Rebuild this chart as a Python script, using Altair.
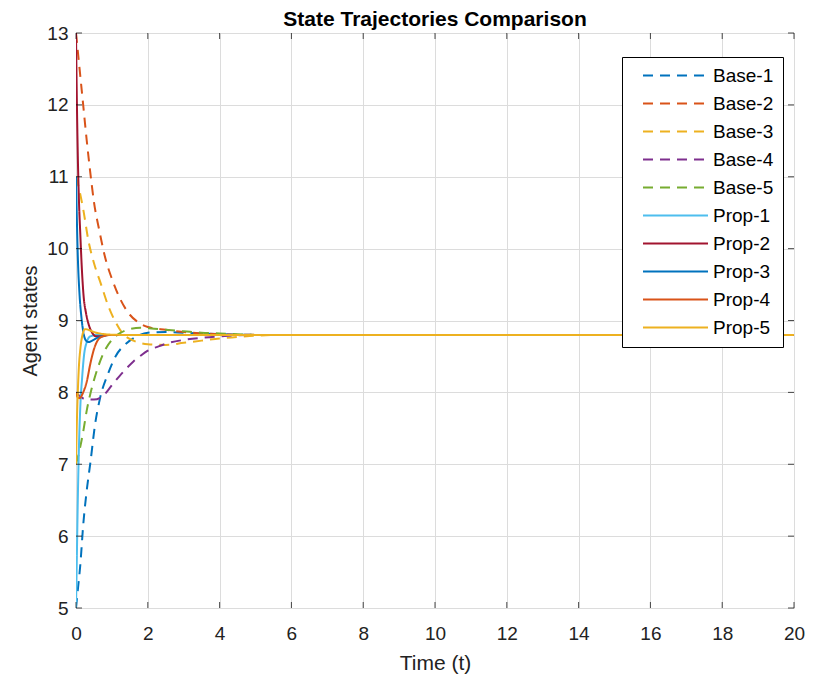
import altair as alt
import pandas as pd

# ---- data ----
series_names = ["Base-1", "Base-2", "Base-3", "Base-4", "Base-5",
                "Prop-1", "Prop-2", "Prop-3", "Prop-4", "Prop-5"]
series_colors = ["#0072BD", "#D95319", "#EDB120", "#7E2F8E", "#77AC30",
                 "#4DBEEE", "#A2142F", "#0072BD", "#D95319", "#EDB120"]

base1_t = [0, 0.05, 0.12, 0.2, 0.3, 0.4, 0.53, 0.67, 0.9, 1.1, 1.4, 1.7, 2.0, 2.5, 3.0, 4.0, 5.0, 20]
base1_v = [5, 5.25, 5.6, 6.15, 6.64, 7.02, 7.55, 7.92, 8.27, 8.5, 8.68, 8.78, 8.83, 8.84, 8.83, 8.81, 8.8, 8.8]

base2_t = [0, 0.1, 0.2, 0.3, 0.4, 0.5, 0.65, 0.8, 1.0, 1.25, 1.5, 1.75, 2.0, 2.5, 3.0, 3.5, 4.0, 5.0, 20]
base2_v = [13, 12.5, 12.0, 11.5, 11.05, 10.65, 10.25, 9.9, 9.58, 9.28, 9.08, 8.97, 8.91, 8.87, 8.84, 8.82, 8.81, 8.8, 8.8]

base3_t = [0, 0.1, 0.2, 0.35, 0.5, 0.7, 0.9, 1.1, 1.3, 1.6, 2.0, 2.5, 3.0, 3.5, 4.0, 4.5, 5.0, 6.0, 20]
base3_v = [11, 10.8, 10.55, 10.1, 9.8, 9.5, 9.2, 8.98, 8.82, 8.72, 8.67, 8.66, 8.69, 8.72, 8.75, 8.77, 8.79, 8.8, 8.8]

base4_t = [0, 0.15, 0.3, 0.5, 0.75, 1.0, 1.2, 1.4, 1.6, 1.8, 2.0, 2.3, 2.6, 3.0, 3.5, 4.0, 5.0, 20]
base4_v = [8, 7.93, 7.9, 7.9, 7.95, 8.1, 8.22, 8.33, 8.43, 8.51, 8.58, 8.64, 8.69, 8.73, 8.76, 8.78, 8.8, 8.8]

base5_t = [0, 0.1, 0.2, 0.3, 0.4, 0.53, 0.77, 1.0, 1.25, 1.5, 1.8, 2.1, 2.5, 3.0, 3.5, 4.0, 5.0, 20]
base5_v = [7, 7.2, 7.45, 7.75, 7.98, 8.22, 8.55, 8.73, 8.83, 8.88, 8.9, 8.89, 8.87, 8.85, 8.83, 8.82, 8.8, 8.8]

prop1_t = [0, 0.02, 0.05, 0.08, 0.12, 0.17, 0.22, 0.3, 0.4, 0.6, 20]
prop1_v = [5, 5.6, 6.5, 7.2, 7.8, 8.2, 8.5, 8.7, 8.78, 8.8, 8.8]

prop2_t = [0, 0.02, 0.05, 0.08, 0.12, 0.16, 0.21, 0.28, 0.35, 0.45, 0.55, 0.7, 0.9, 20]
prop2_v = [13, 12.2, 11.3, 10.7, 10.2, 9.75, 9.35, 9.1, 8.95, 8.83, 8.78, 8.78, 8.8, 8.8]

prop3_t = [0, 0.02, 0.05, 0.1, 0.15, 0.2, 0.28, 0.35, 0.45, 0.6, 0.8, 1.0, 20]
prop3_v = [11, 10.5, 9.9, 9.35, 9.05, 8.85, 8.72, 8.7, 8.72, 8.76, 8.79, 8.8, 8.8]

prop4_t = [0, 0.05, 0.1, 0.2, 0.3, 0.4, 0.5, 0.6, 0.75, 1.0, 20]
prop4_v = [8, 7.93, 7.92, 8.0, 8.15, 8.4, 8.6, 8.72, 8.78, 8.8, 8.8]

prop5_t = [0, 0.02, 0.05, 0.08, 0.12, 0.18, 0.25, 0.35, 0.5, 0.8, 1.2, 20]
prop5_v = [7, 7.5, 8.0, 8.35, 8.6, 8.8, 8.88, 8.87, 8.84, 8.81, 8.8, 8.8]

x_ticks = [0, 2, 4, 6, 8, 10, 12, 14, 16, 18, 20]
y_ticks = [5, 6, 7, 8, 9, 10, 11, 12, 13]

all_t = [base1_t, base2_t, base3_t, base4_t, base5_t, prop1_t, prop2_t, prop3_t, prop4_t, prop5_t]
all_v = [base1_v, base2_v, base3_v, base4_v, base5_v, prop1_v, prop2_v, prop3_v, prop4_v, prop5_v]

rows = []
for name, ts, vs in zip(series_names, all_t, all_v):
    for i, (t, v) in enumerate(zip(ts, vs)):
        rows.append({"series": name, "t": t, "v": v, "i": i,
                     "kind": "base" if name.startswith("Base") else "prop"})
df = pd.DataFrame(rows)

FONT = "Liberation Sans"

xscale = alt.Scale(domain=[0, 20], nice=False)
yscale = alt.Scale(domain=[5, 13], nice=False)

color = alt.Color("series:N", title=None,
                  scale=alt.Scale(domain=series_names, range=series_colors),
                  legend=alt.Legend(orient="none", legendX=546, legendY=24,
                                    symbolType="M-5,0H5", symbolSize=169,
                                    symbolStrokeWidth=2.2, labelFontSize=19,
                                    labelFont=FONT, labelColor="#000000",
                                    rowPadding=8, padding=9,
                                    strokeColor="#000000", fillColor="#ffffff",
                                    symbolOffset=35, labelOffset=28,
                                    labelLimit=200,
                                    labelExpr="datum.label + '  '"))
dash = alt.StrokeDash("series:N", title=None,
                      scale=alt.Scale(domain=series_names,
                                      range=[[10, 7]] * 5 + [[1, 0]] * 5))
width_enc = alt.StrokeWidth("series:N", legend=None,
                            scale=alt.Scale(domain=series_names,
                                            range=[2.0] * 5 + [2.6] * 5))

xaxis = alt.Axis(values=x_ticks, title="Time (t)", grid=True, tickSize=0,
                 domain=False, labelPadding=16, labelFontSize=19,
                 titleFontSize=21, titleFontWeight="normal", titlePadding=9,
                 labelFont=FONT, titleFont=FONT, labelColor="#222222",
                 titleColor="#222222", gridColor="#dcdcdc", format="d",
                 labelFlush=False)
yaxis = alt.Axis(values=y_ticks, title="Agent states", grid=True, tickSize=0,
                 domain=False, labelPadding=8, labelFontSize=19,
                 titleFontSize=20, titleFontWeight="normal", titlePadding=6,
                 labelFont=FONT, titleFont=FONT, labelColor="#222222",
                 titleColor="#222222", gridColor="#dcdcdc", format="d",
                 labelFlush=False)

base_layer = alt.Chart(df[df.kind == "base"]).mark_line(
    interpolate="monotone", clip=True).encode(
    x=alt.X("t:Q", scale=xscale, axis=xaxis),
    y=alt.Y("v:Q", scale=yscale, axis=yaxis),
    color=color, strokeDash=dash, strokeWidth=width_enc,
    order="i:Q", detail="series:N")

prop_layer = alt.Chart(df[df.kind == "prop"]).mark_line(
    interpolate="monotone", clip=True).encode(
    x=alt.X("t:Q", scale=xscale),
    y=alt.Y("v:Q", scale=yscale),
    color=color, strokeDash=dash, strokeWidth=width_enc,
    order="i:Q", detail="series:N")

xt = pd.DataFrame({"t": x_ticks})
yt = pd.DataFrame({"v": y_ticks})
tick_bottom = alt.Chart(xt).mark_tick(orient="vertical", size=6, thickness=1,
                                      color="#000000", yOffset=-3).encode(
    x=alt.X("t:Q", scale=xscale), y=alt.datum(5))
tick_top = alt.Chart(xt).mark_tick(orient="vertical", size=6, thickness=1,
                                   color="#000000", yOffset=3).encode(
    x=alt.X("t:Q", scale=xscale), y=alt.datum(13))
tick_left = alt.Chart(yt).mark_tick(orient="horizontal", size=6, thickness=1,
                                    color="#000000", xOffset=3).encode(
    y=alt.Y("v:Q", scale=yscale), x=alt.datum(0))
tick_right = alt.Chart(yt).mark_tick(orient="horizontal", size=6, thickness=1,
                                     color="#000000", xOffset=-3).encode(
    y=alt.Y("v:Q", scale=yscale), x=alt.datum(20))

chart = alt.layer(base_layer, prop_layer, tick_bottom, tick_top, tick_left, tick_right).properties(
    width=718, height=575,
    title=alt.TitleParams("State Trajectories Comparison", fontSize=21,
                          fontWeight="bold", font=FONT, color="#000000",
                          offset=7, dy=13),
    autosize=alt.AutoSizeParams(type="none"),
    padding={"left": 68, "top": 25, "right": 12, "bottom": 68},
).configure_view(stroke="#000000", strokeWidth=1).configure(background="#ffffff")

chart.save("out.html", embed_options={"renderer": "svg", "actions": False})
